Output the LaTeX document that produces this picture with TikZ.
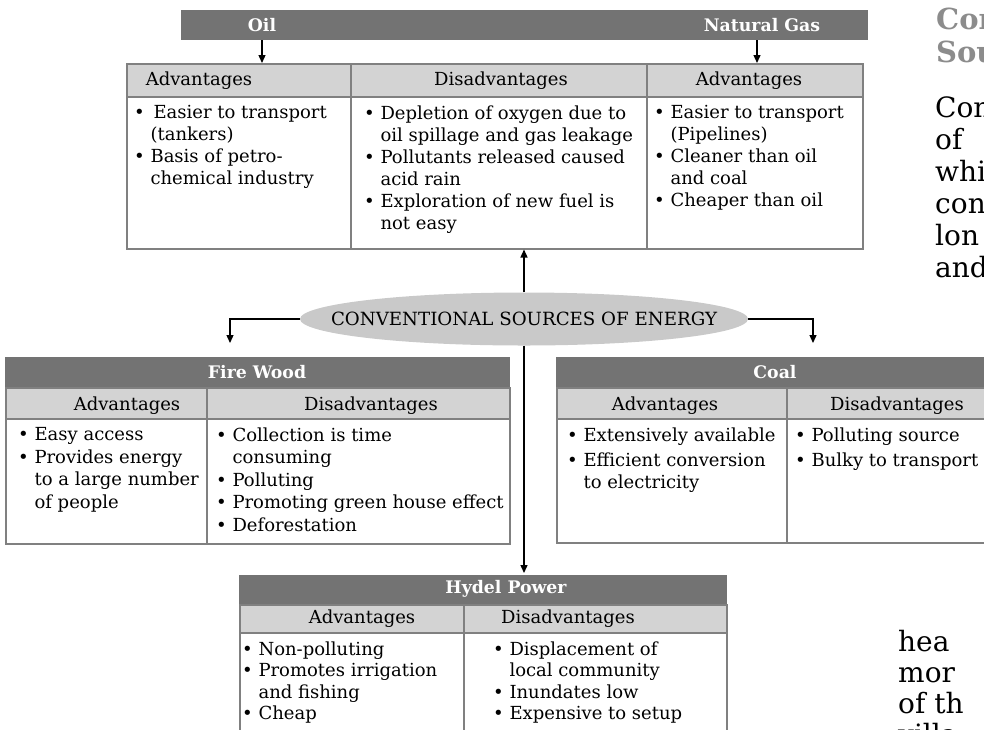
\documentclass[tikz,border=0pt]{standalone}
\usepackage{fontspec}
\setmainfont{DejaVu Serif}
\usepackage{xcolor}
\usepackage{tikz}
\usetikzlibrary{shapes,arrows.meta,positioning}

\definecolor{bardark}{HTML}{737373}
\definecolor{headgray}{HTML}{D3D3D3}
\definecolor{rulegray}{HTML}{808080}
\definecolor{ovalgray}{HTML}{C9C9C9}
\definecolor{pagegray}{HTML}{8C8C8C}

\newcommand{\bul}{\textbullet\ }
\newcommand{\ind}{\hphantom{\textbullet\ }}

\begin{document}
\begin{tikzpicture}[x=1pt,y=-1pt,
  titlebar/.style={fill=bardark,draw=bardark,line width=1pt,inner sep=0pt,anchor=north west},
  headcell/.style={fill=headgray,draw=rulegray,line width=1.5pt,inner sep=0pt,anchor=north west},
  bodycell/.style={draw=rulegray,line width=1.5pt,inner sep=0pt,anchor=north west},
  titletext/.style={text=white,font=\fontsize{17.3}{20}\selectfont\bfseries,anchor=base},
  headtext/.style={font=\fontsize{18}{21}\selectfont,anchor=base},
  listtext/.style={font=\fontsize{18}{22}\selectfont,align=left,anchor=north west,inner sep=0pt},
  pagehead/.style={text=pagegray,font=\fontsize{29}{32}\selectfont\bfseries,anchor=base west,inner sep=0pt},
  pagetext/.style={font=\fontsize{28}{32}\selectfont,anchor=base west,inner sep=0pt},
  link/.style={line width=1.3pt,-{Triangle[length=8pt,width=7pt]}}]
\clip (0,0) rectangle (984,729);

% Oil and natural gas
\node[titlebar,minimum width=686pt,minimum height=29pt] (fuelbar) at (181,10) {};
\node[titletext] (oil) at (262,31) {Oil};
\node[titletext] (gas) at (762,31) {Natural Gas};
\foreach \name/\x/\w in {oiladv/126/224, oildis/350/296, gasadv/646/216} {
  \node[headcell,minimum width=\w pt,minimum height=33pt] (\name-head) at (\x,63) {};
  \node[bodycell,minimum width=\w pt,minimum height=152pt] (\name-body) at (\x,96) {};
}
\node[headtext] (oiladv-label) at (199,85) {Advantages};
\node[headtext] (oildis-label) at (501,85) {Disadvantages};
\node[headtext] (gasadv-label) at (749,85) {Advantages};
\node[listtext] (oiladv-list) at (134,105.5) {\bul\,Easier to transport\\\ind(tankers)\\\bul Basis of petro-\\\ind chemical industry};
\node[listtext] (oildis-list) at (364,105.5) {\bul Depletion of oxygen due to\\\ind oil spillage and gas leakage\\\bul Pollutants released caused\\\ind acid rain\\\bul Exploration of new fuel is\\\ind not easy};
\node[listtext] (gasadv-list) at (654,105.5) {\bul Easier to transport\\\ind(Pipelines)\\\bul Cleaner than oil\\\ind and coal\\\bul Cheaper than oil};
\draw[link] (oil |- fuelbar.south) -- (oil |- oiladv-head.north);
\draw[link] ([xshift=-5pt]gas.south |- fuelbar.south) -- ([xshift=-5pt]gas.south |- gasadv-head.north);

% Centre oval
\node[ellipse,fill=ovalgray,minimum width=448pt,minimum height=53pt,inner xsep=-60pt,inner ysep=0pt,
  font=\fontsize{18.2}{21}\selectfont] (conv) at (524,319) {CONVENTIONAL SOURCES OF ENERGY};
\coordinate (woodin) at (230,343);
\coordinate (coalin) at (813,343);

% Fire wood
\node[titlebar,minimum width=504pt,minimum height=30pt] (woodbar) at (5,357) {};
\node[titletext] (wood) at (257,378) {Fire Wood};
\foreach \name/\x/\w in {woodadv/5/201, wooddis/206/303} {
  \node[headcell,minimum width=\w pt,minimum height=31pt] (\name-head) at (\x,387) {};
  \node[bodycell,minimum width=\w pt,minimum height=125pt] (\name-body) at (\x,418) {};
}
\node[headtext] (woodadv-label) at (127,410) {Advantages};
\node[headtext] (wooddis-label) at (371,410) {Disadvantages};
\node[listtext,font=\fontsize{18}{22.5}\selectfont] (woodadv-list) at (18,427.5) {\bul Easy access\\\bul Provides energy\\\ind to a large number\\\ind of people};
\node[listtext,font=\fontsize{18}{22.5}\selectfont] (wooddis-list) at (216,427.5) {\bul Collection is time\\\ind consuming\\\bul Polluting\\\bul Promoting green house effect\\\bul Deforestation};

% Coal
\node[titlebar,minimum width=438pt,minimum height=30pt] (coalbar) at (556,357) {};
\node[titletext] (coal) at (775,378) {Coal};
\foreach \name/\x/\w in {coaladv/556/230, coaldis/786/208} {
  \node[headcell,minimum width=\w pt,minimum height=31pt] (\name-head) at (\x,387) {};
  \node[bodycell,minimum width=\w pt,minimum height=124pt] (\name-body) at (\x,418) {};
}
\node[headtext] (coaladv-label) at (665,410) {Advantages};
\node[headtext] (coaldis-label) at (897,410) {Disadvantages};
\node[listtext] (coaladv-list) at (567,427.5) {\bul Extensively available\\[3pt]\bul Efficient conversion\\\ind to electricity};
\node[listtext] (coaldis-list) at (795,427.5) {\bul Polluting source\\[3pt]\bul Bulky to transport};

% Hydel power
\node[titlebar,minimum width=487pt,minimum height=29pt] (hydelbar) at (239,575) {};
\node[titletext] (hydel) at (506,593) {Hydel Power};
\foreach \name/\x/\w in {hydadv/239/224, hyddis/463/263} {
  \node[headcell,minimum width=\w pt,minimum height=28pt] (\name-head) at (\x,604) {};
  \node[bodycell,minimum width=\w pt,minimum height=130pt] (\name-body) at (\x,632) {};
}
\node[headtext] (hydadv-label) at (362,623) {Advantages};
\node[headtext] (hyddis-label) at (568,623) {Disadvantages};
\node[listtext,font=\fontsize{18}{21.5}\selectfont] (hydadv-list) at (242,641.5) {\bul Non-polluting\\\bul Promotes irrigation\\\ind and fishing\\\bul Cheap};
\node[listtext,font=\fontsize{18}{21.5}\selectfont] (hyddis-list) at (493,641.5) {\bul Displacement of\\\ind local community\\\bul Inundates low\\\bul Expensive to setup};

% Connectors from the oval
\draw[link] (conv.north) -- (conv.north |- oildis-body.south);
\draw[link,shorten >=2pt] (conv.south) -- (conv.south |- hydelbar.north);
\draw[link] (conv.west) -| (woodin);
\draw[link] (conv.east) -| (coalin);

% Page text at the right edge
\node[pagehead] (pghead1) at (936,29) {Con};
\node[pagehead] (pghead2) at (936,62) {Sou};
\foreach \word/\y [count=\i] in {Con/117, of/149, whi/181, con/213, lon/245, and/277}
  \node[pagetext] (pgtop\i) at (935,\y) {\word};
\foreach \word/\y [count=\i] in {hea/651, mor/682, of th/713, villa/744}
  \node[pagetext] (pgbot\i) at (898,\y) {\word};
\end{tikzpicture}
\end{document}
